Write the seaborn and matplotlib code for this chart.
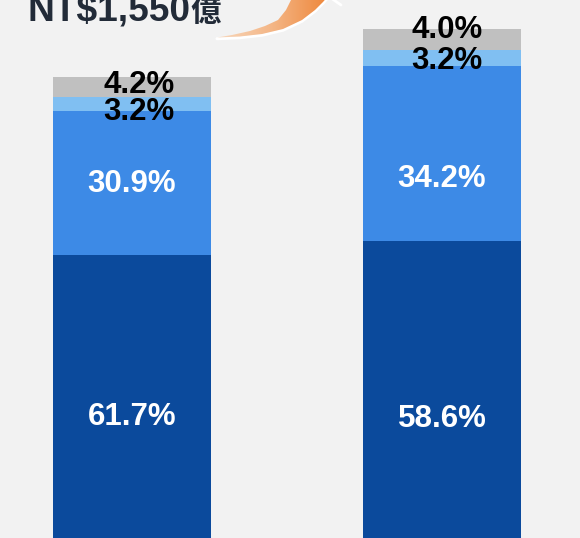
import numpy as np
import pandas as pd
import matplotlib
matplotlib.use("Agg")
import matplotlib.pyplot as plt
import seaborn as sns
from matplotlib.path import Path
from matplotlib.patches import PathPatch
from matplotlib.colors import LinearSegmentedColormap

# ──────────────────────────────────────────────
# Data
# ──────────────────────────────────────────────
categories = ["Y1", "Y2"]
totals = [1550, 1710]                      # NT$ 億
share_dark = [61.7, 58.6]
share_mid = [30.9, 34.2]
share_light = [3.2, 3.2]
share_gray = [4.2, 4.0]

colors = {"dark": "#0b4a9c", "mid": "#3d8ae6", "light": "#80bff2", "gray": "#c0c0c0"}
BG = "#f2f2f2"

df = pd.DataFrame({
    "cat": categories,
    "total": totals,
    "dark": share_dark,
    "mid": share_mid,
    "light": share_light,
    "gray": share_gray,
})
order = ["dark", "mid", "light", "gray"]
for k in order:
    df[k + "_val"] = df["total"] * df[k] / 100.0
# cumulative tops
cum = df[[k + "_val" for k in order]].cumsum(axis=1)
cum.columns = order

sns.set_theme(style="white")
plt.rcParams["font.family"] = ["Liberation Sans", "Noto Sans CJK TC", "DejaVu Sans"]

fig = plt.figure(figsize=(5.8, 5.38), dpi=100)
fig.patch.set_facecolor(BG)
ax = fig.add_axes([0, 0, 1, 1])
ax.set_facecolor(BG)

# draw from top segment down so each overlays the previous
for k in reversed(order):
    sns.barplot(x=df["cat"], y=cum[k], color=colors[k], width=0.51,
                saturation=1, linewidth=0, ax=ax)

ax.set_xlim(-0.426, 1.445)
ax.set_ylim(13.3, 1807)
ax.axis("off")

# ──────────────────────────────────────────────
# Labels (pixel offsets: dx right, dy down)
# ──────────────────────────────────────────────
offsets = {
    "dark": [(0, 18), (0, 27)],
    "mid": [(0, 1), (0, 25)],
    "light": [(7, 8), (5, 3)],
    "gray": [(7, -2), (5, -9)],
}
for i in range(len(df)):
    bottom = 0
    for k in order:
        top = cum.loc[i, k]
        mid_y = (bottom + top) / 2
        dx, dy = offsets[k][i]
        txt_color = "white" if k in ("dark", "mid") else "black"
        ax.annotate(f"{df.loc[i, k]:.1f}%", (i, mid_y), xytext=(dx * 0.72, -dy * 0.72),
                    textcoords="offset points", ha="center", va="center",
                    fontsize=22.5, fontweight="bold", color=txt_color)
        bottom = top

# ──────────────────────────────────────────────
# Header text + orange arrow (decoration)
# ──────────────────────────────────────────────
fig.text(27 / 580, 1 - 20 / 538, "NT$1,550", fontsize=26.7, fontweight="bold",
         color="#222b38", ha="left", va="baseline")
fig.text(190 / 580, 1 - 21 / 538, "億", fontsize=22, fontweight="bold",
         color="#222b38", ha="left", va="baseline",
         family=["Noto Sans CJK TC", "DejaVu Sans"])

ov = fig.add_axes([0, 0, 1, 1], zorder=5)
ov.patch.set_alpha(0)
ov.axis("off")

lower = [(217, 37.5), (240, 36.5), (262, 34), (283, 29), (302, 20),
         (315, 10), (323, 2), (330, -6)]
upper = [(294, -6), (291, 0), (286, 10), (278, 20), (265, 26),
         (250, 31), (232, 35)]
verts = lower + upper + [lower[0]]
codes = [Path.MOVETO] + [Path.LINETO] * (len(verts) - 2) + [Path.CLOSEPOLY]
crescent = Path(verts, codes)
patch = PathPatch(crescent, facecolor="none", edgecolor="none")
ov.add_patch(patch)
cmap = LinearSegmentedColormap.from_list("arrow", ["#f8d8bd", "#f4b584", "#ee8538"])
grad = np.linspace(0, 1, 256).reshape(1, -1)
im = ov.imshow(grad, extent=[217, 330, 40, -8], cmap=cmap, aspect="auto",
               interpolation="bilinear", zorder=4)
im.set_clip_path(patch)
lx, ly = zip(*lower)
ov.plot(lx, np.array(ly) + 1.2, color="white", lw=2.2, zorder=3, solid_capstyle="round")
ov.plot([331, 341], [-2, 5], color="white", lw=2, zorder=3)
ov.set_xlim(0, 580)
ov.set_ylim(538, 0)

fig.savefig("out.png", dpi=100, facecolor=BG)
